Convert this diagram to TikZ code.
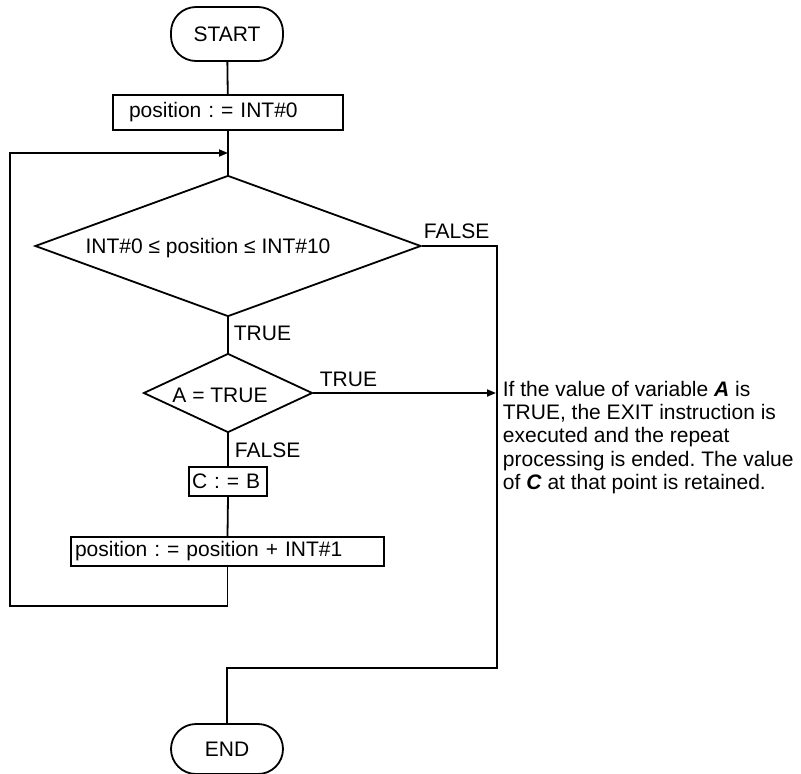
\documentclass[tikz,border=0pt]{standalone}
\usepackage{fontspec}
\setmainfont{Liberation Sans}
\frenchspacing
\usetikzlibrary{shapes.geometric,arrows.meta}
\begin{document}
\begin{tikzpicture}[x=1pt,y=-1pt,
  font=\fontsize{21}{23.3}\selectfont,
  line width=1.8pt,
  term/.style={draw, rounded corners=25pt, minimum width=112pt, inner sep=0pt},
  procbox/.style={draw, align=left, inner ysep=0pt},
  decision/.style={draw, diamond, inner sep=0pt},
  lbl/.style={inner sep=0pt, anchor=base west},
  arr/.style={-{Triangle[length=9pt,width=7pt]}}
]
\useasboundingbox (0,0) rectangle (801,774);

% nodes
\node[term, minimum height=54pt] (start) at (227,34) {START};
\node[procbox, minimum height=35pt, inner xsep=16pt, text width=198pt] (init) at (228,112.5) {position : = INT\#0};
\node[decision, minimum width=386pt, minimum height=141pt] (cond) at (228,246) {};
\node[inner sep=0pt, anchor=base] (condtext) at (208,253) {INT\#0 ≤ position ≤ INT\#10};
\node[decision, minimum width=169pt, minimum height=79pt] (check) at (228,393) {};
\node[inner sep=0pt, anchor=base] (checktext) at (220,402) {A = TRUE};
\node[procbox, minimum height=29pt, inner xsep=3pt, text width=72pt] (assign) at (228,481.5) {C : = B};
\node[procbox, minimum height=29pt, inner xsep=4pt, text width=305pt] (incr) at (227.5,551.5) {position : = position + INT\#1};
\node[term, minimum height=50pt] (finish) at (227,749) {END};

% labels
\node[lbl] (lfalse1) at (423,238) {FALSE};
\node[lbl] (ltrue1) at (233,340) {TRUE};
\node[lbl] (ltrue2) at (319,386) {TRUE};
\node[lbl] (lfalse2) at (234,457) {FALSE};

\node[anchor=north west, align=left, inner sep=0pt] (note) at (502,380)
  {If the value of variable \textbf{\textit{A}} is\\
   TRUE, the EXIT instruction is\\
   executed and the repeat\\
   processing is ended. The value\\
   of \textbf{\textit{C}} at that point is retained.};

% coordinates
\coordinate (loopin) at (228,153);
\coordinate (loopL) at (10,606);
\coordinate (rb) at (497,668);
\coordinate (exitpt) at (496,393);

% connectors
\draw (start) -- (init);
\draw (init.south) -- (cond.north);
\draw (cond.south) -- (check.north);
\draw (check.south) -- (assign.north);
\draw (assign.south) -- (incr.north);
\draw[arr] (incr.south) |- (loopL) |- (loopin);
\draw (cond.east) -| (rb) -| (finish.north);
\draw[arr] (check.east) -- (exitpt);
\end{tikzpicture}
\end{document}
